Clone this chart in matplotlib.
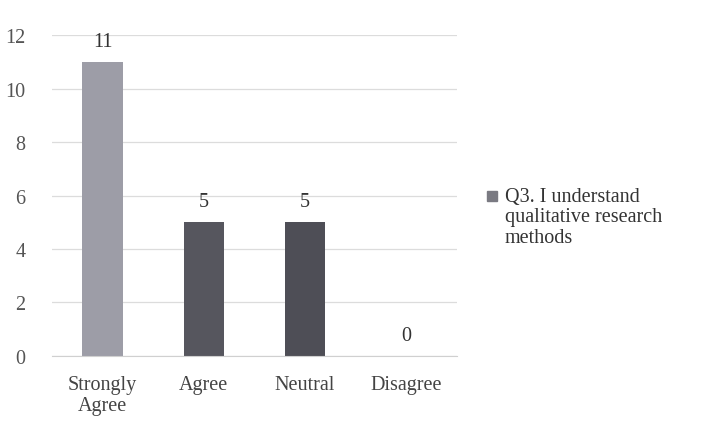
import numpy as np
import matplotlib.pyplot as plt
from matplotlib.patches import Rectangle

categories = ['Strongly\nAgree', 'Agree', 'Neutral', 'Disagree']
counts = [11, 5, 5, 0]
bar_colors = ['#9d9da7', '#56565e', '#4e4e56', '#4e4e56']
series_name = 'Q3. I understand\nqualitative research\nmethods'
y_ticks = [0, 2, 4, 6, 8, 10, 12]

plt.rcParams['font.family'] = ['Liberation Serif', 'DejaVu Serif']

fig = plt.figure(figsize=(7.07, 4.31), dpi=100)
ax = fig.add_axes([0.0735, 0.172, 0.5725, 0.744])

x = np.arange(len(categories))
ax.bar(x, counts, width=0.4, color=bar_colors, zorder=2)

# value labels above each bar
for xi, v in zip(x, counts):
    ax.text(xi, v + 0.42, str(v), ha='center', va='bottom',
            fontsize=14.5, color='#333333')

ax.set_xlim(-0.5, len(categories) - 0.5)
ax.set_ylim(0, 12)
ax.set_yticks(y_ticks)
ax.set_xticks(x)
ax.set_xticklabels(categories, fontsize=14.5, color='#444444', linespacing=1.15)
ax.tick_params(axis='y', labelsize=14.5, labelcolor='#555555', length=0, pad=19)
ax.tick_params(axis='x', length=0, pad=14)

ax.grid(axis='y', color='#dcdcdc', linewidth=0.9, zorder=0)
for side in ['top', 'right', 'left']:
    ax.spines[side].set_visible(False)
ax.spines['bottom'].set_color('#d0d0d0')

# legend: small square beside the first line of the series name
fig.patches.append(Rectangle((0.689, 0.531), 0.014, 0.023, transform=fig.transFigure,
                             color='#7a7a82'))
fig.text(0.714, 0.4945, series_name, ha='left', va='center', fontsize=14.5,
         color='#333333', linespacing=1.12)

fig.savefig('out.png', dpi=100, facecolor='white')
